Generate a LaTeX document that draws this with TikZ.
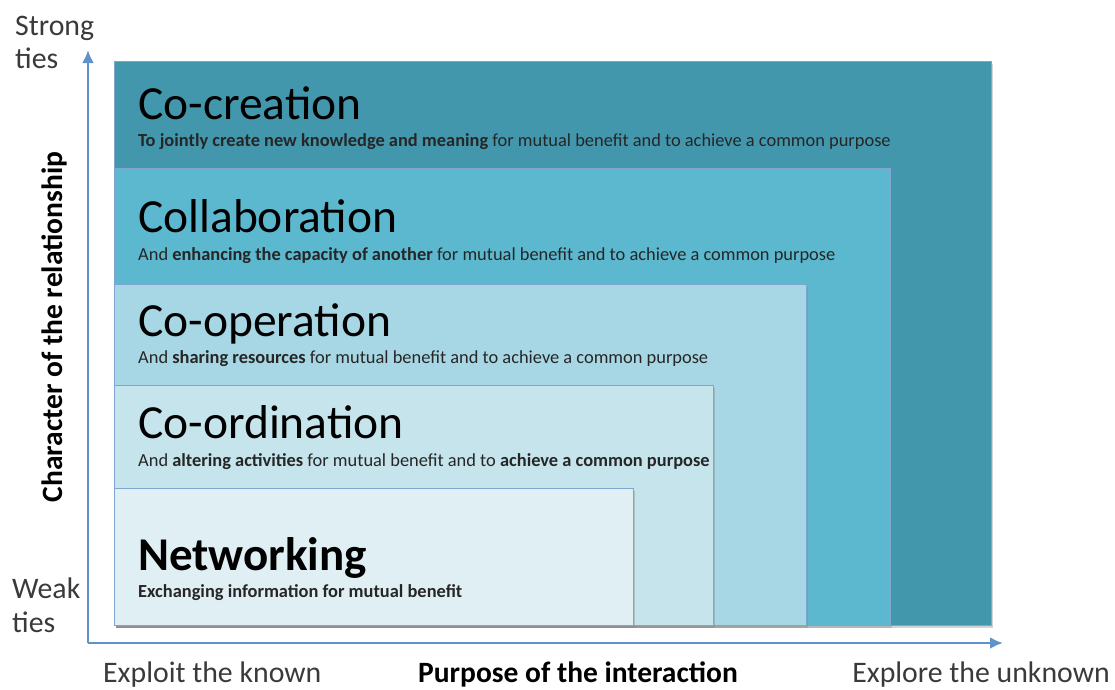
\documentclass[tikz,border=0pt]{standalone}
\usepackage{fontspec}
\setmainfont{Carlito}
\usetikzlibrary{arrows.meta,shadows}

\definecolor{cocreate}{HTML}{4297AD}
\definecolor{collab}{HTML}{5CB8CF}
\definecolor{coop}{HTML}{A7D7E4}
\definecolor{coord}{HTML}{C5E4EB}
\definecolor{netw}{HTML}{E0EFF4}
\definecolor{edgeblue}{HTML}{7FA6CF}
\definecolor{axisblue}{HTML}{5E92C9}
\definecolor{labelgray}{HTML}{3A3A3A}
\definecolor{subtext}{HTML}{262626}

\tikzset{
  tier/.style={rectangle, draw=edgeblue, line width=1pt, anchor=north west,
    inner sep=0pt, drop shadow={shadow xshift=1pt, shadow yshift=-2pt, opacity=0.35}},
  tiertitle/.style={anchor=base west, inner sep=0pt, text=black,
    font=\fontsize{47.5}{52}\selectfont},
  tiernote/.style={anchor=base west, inner sep=0pt, text=subtext,
    font=\fontsize{18.4}{21}\selectfont},
  axislabel/.style={inner sep=0pt, text=labelgray, font=\fontsize{29.8}{35}\selectfont},
  axisname/.style={inner sep=0pt, text=black, font=\bfseries\fontsize{29.5}{34}\selectfont},
  axisline/.style={draw=axisblue, line width=2.6pt, -{Latex[length=13pt,width=12pt]}}
}

\begin{document}
\begin{tikzpicture}[x=1pt,y=-1pt]
  \useasboundingbox (0,0) rectangle (1115,689);

  % nested tiers, outermost first
  \node[tier, fill=cocreate, minimum width=877pt, minimum height=564pt] (cocreation) at (114,61) {};
  \node[tier, fill=collab, minimum width=776pt, minimum height=457pt] (collaboration) at (114,168) {};
  \node[tier, fill=coop, minimum width=692pt, minimum height=341pt] (cooperation) at (114,284) {};
  \node[tier, fill=coord, minimum width=599pt, minimum height=240pt] (coordination) at (114,385) {};
  \node[tier, fill=netw, minimum width=519pt, minimum height=137pt] (networking) at (114,488) {};

  % tier titles and descriptions
  \node[tiertitle] (t1) at (138,119) {Co-creation};
  \node[tiernote] (d1) at (138,146) {\textbf{To jointly create new knowledge and meaning} for mutual benefit and to achieve a common purpose};

  \node[tiertitle] (t2) at (138,232) {Collaboration};
  \node[tiernote] (d2) at (138,260) {And \textbf{enhancing the capacity of another} for mutual benefit and to achieve a common purpose};

  \node[tiertitle] (t3) at (138,336) {Co-operation};
  \node[tiernote] (d3) at (138,363) {And \textbf{sharing resources} for mutual benefit and to achieve a common purpose};

  \node[tiertitle] (t4) at (138,438) {Co-ordination};
  \node[tiernote] (d4) at (138,466) {And \textbf{altering activities} for mutual benefit and to \textbf{achieve a common purpose}};

  \node[tiertitle, font=\bfseries\fontsize{47}{52}\selectfont] (t5) at (138,570) {Networking};
  \node[tiernote, font=\bfseries\fontsize{18.4}{21}\selectfont] (d5) at (138,597) {Exchanging information for mutual benefit};

  % axes
  \coordinate (origin) at (88,643);
  \coordinate (ytip) at (88,50);
  \coordinate (xtip) at (1003,643);
  \draw[axisline] (origin) -- (ytip);
  \draw[axisline] (origin) -- (xtip);

  % axis end labels
  \node[axislabel, anchor=base west] (strong) at (15,35) {Strong};
  \node[axislabel, anchor=base west] (strongties) at (15,68) {ties};
  \node[axislabel, anchor=base west] (weak) at (12,598) {Weak};
  \node[axislabel, anchor=base west] (weakties) at (12,632) {ties};
  \node[axislabel, anchor=base west] (exploit) at (103,682) {Exploit the known};
  \node[axislabel, anchor=base east] (explore) at (1110,682) {Explore the unknown};

  % axis names
  \node[axisname, anchor=base] (purpose) at (578,682) {Purpose of the interaction};
  \node[axisname, rotate=90, anchor=base] (character) at (62,327) {Character of the relationship};
\end{tikzpicture}
\end{document}
